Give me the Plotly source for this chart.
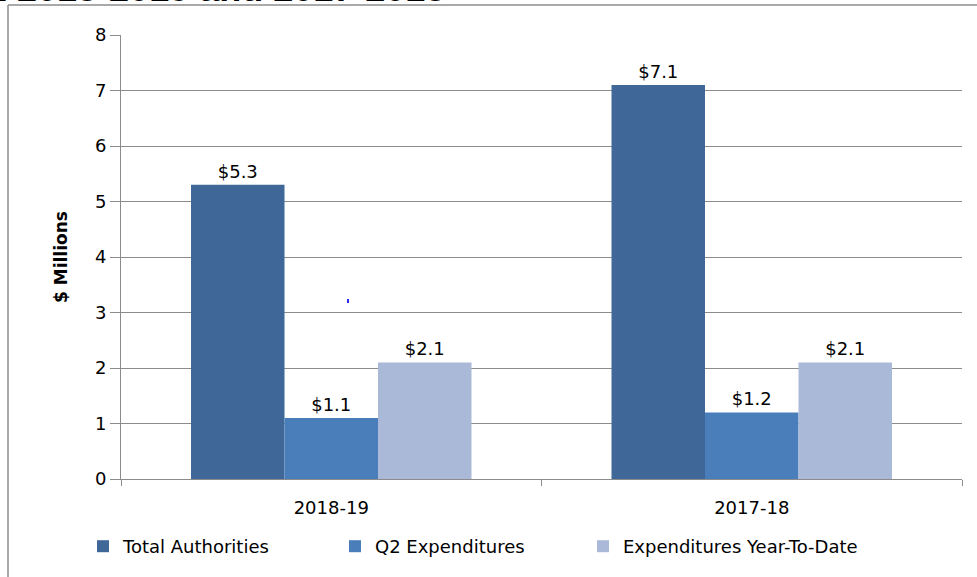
import plotly.graph_objects as go

categories = ["2018-19", "2017-18"]
total_authorities = [5.3, 7.1]
q2_expenditures = [1.1, 1.2]
ytd_expenditures = [2.1, 2.1]
series_names = ["Total Authorities", "Q2 Expenditures", "Expenditures Year-To-Date"]
colors = ["#3F6899", "#4A7EBB", "#A9B9D7"]
y_ticks = [0, 1, 2, 3, 4, 5, 6, 7, 8]

W, H = 977, 577
L, R, T, B = 121, 15, 35, 98
pw, ph = W - L - R, H - T - B

def px(x):
    return (x - L) / pw

def py(y):
    return (H - B - y) / ph

FONT = "DejaVu Sans"
legend_ids = ["legend", "legend2", "legend3"]
legend_x = [83, 335, 583]

fig = go.Figure()
for name, vals, col, lid in zip(series_names, [total_authorities, q2_expenditures, ytd_expenditures], colors, legend_ids):
    fig.add_trace(go.Bar(
        x=categories, y=vals, name=name, legend=lid,
        marker=dict(color=col, line=dict(width=0)),
        text=[f"${v:.1f}" for v in vals],
        textposition="outside",
        textfont=dict(family=FONT, size=18, color="#000000"),
        cliponaxis=False,
    ))

legend_common = dict(orientation="h", yanchor="top", y=py(528),
                     font=dict(family=FONT, size=18), itemwidth=30,
                     bgcolor="rgba(0,0,0,0)", xanchor="left")

fig.update_layout(
    width=W, height=H,
    margin=dict(l=L, r=R, t=T, b=B, autoexpand=False),
    paper_bgcolor="white", plot_bgcolor="white",
    barmode="group", bargap=0.333, bargroupgap=0,
    font=dict(family=FONT, size=18, color="#000000"),
    showlegend=True,
    legend=dict(legend_common, x=px(legend_x[0])),
    legend2=dict(legend_common, x=px(legend_x[1])),
    legend3=dict(legend_common, x=px(legend_x[2])),
    xaxis=dict(
        showline=True, linecolor="#8C8C8C", linewidth=1,
        ticks="outside", tickson="boundaries", ticklen=6, tickcolor="#8C8C8C",
        tickfont=dict(family=FONT, size=18), showgrid=False,
        ticklabelstandoff=12,
    ),
    yaxis=dict(
        range=[0, 8], tickvals=y_ticks,
        showline=True, linecolor="#8C8C8C", linewidth=1,
        ticks="outside", ticklen=10, tickcolor="#8C8C8C",
        showgrid=True, gridcolor="#8C8C8C", gridwidth=1,
        tickfont=dict(family=FONT, size=18),
        title=dict(text="<b>$ Millions</b>", font=dict(family=FONT, size=17), standoff=22),
        zeroline=False,
    ),
    shapes=[
        dict(type="line", xref="paper", yref="paper", x0=px(8), x1=px(980), y0=py(5), y1=py(5),
             line=dict(color="#8C8C8C", width=1.5)),
        dict(type="line", xref="paper", yref="paper", x0=px(8), x1=px(8), y0=py(5), y1=py(580),
             line=dict(color="#8C8C8C", width=1.5)),
        dict(type="rect", xref="paper", yref="paper", x0=px(347), x1=px(349), y0=py(299), y1=py(303),
             line=dict(width=0), fillcolor="#2A2AF0"),
    ],
    annotations=[
        dict(text="<b>Q2 2018-2019 and 2017-2018</b>", xref="paper", yref="paper",
             x=px(447), y=py(-12), xanchor="right", yanchor="middle", showarrow=False,
             font=dict(family="Liberation Sans", size=36, color="#000000")),
    ],
)

fig.write_html("out.html", config={"displayModeBar": False},
               post_script="document.body.style.margin='0';document.body.style.padding='0';")
